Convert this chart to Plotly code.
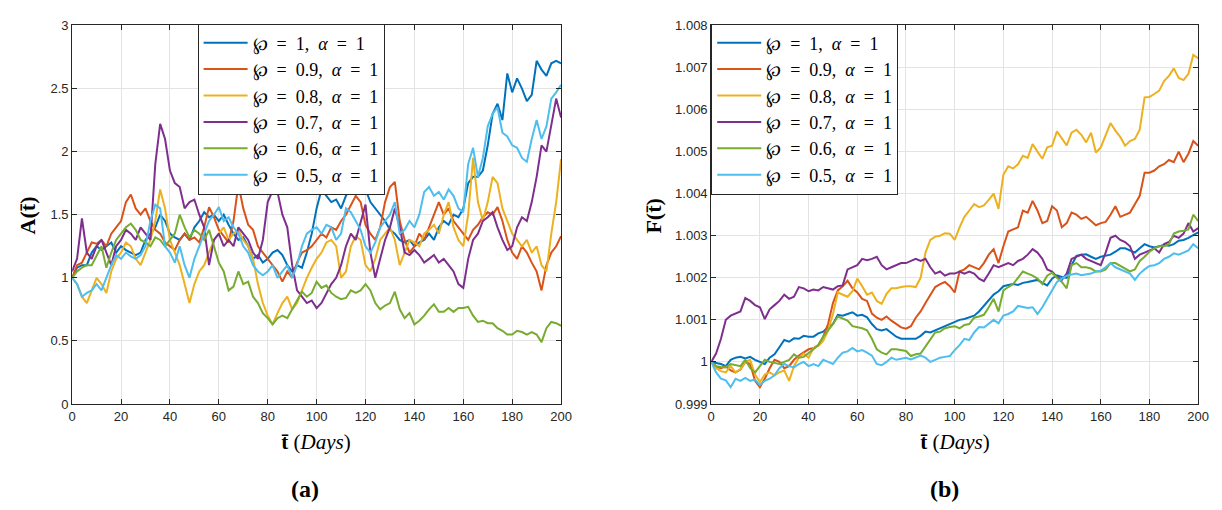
import plotly.graph_objects as go

# Simulation day grid (every second day)
days = list(range(0, 201, 2))

# A(t) for each fractional order
a_phi_10 = [1.0, 1.08, 1.1, 1.1, 1.2, 1.25, 1.22, 1.25, 1.28, 1.2,
            1.25, 1.22, 1.2, 1.18, 1.2, 1.3, 1.35, 1.4, 1.5, 1.45,
            1.35, 1.32, 1.3, 1.35, 1.3, 1.4, 1.45, 1.52, 1.48, 1.5,
            1.45, 1.5, 1.42, 1.35, 1.3, 1.32, 1.25, 1.15, 1.18, 1.12,
            1.15, 1.2, 1.22, 1.18, 1.1, 1.05, 1.1, 1.08, 1.2, 1.35,
            1.55, 1.7, 1.65, 1.6, 1.62, 1.55, 1.65, 1.72, 1.78, 1.72,
            1.7, 1.6, 1.55, 1.5, 1.45, 1.38, 1.35, 1.3, 1.28, 1.3,
            1.25, 1.28, 1.3, 1.35, 1.3, 1.4, 1.45, 1.42, 1.5, 1.48,
            1.55, 1.75, 1.8, 1.8, 1.85, 2.05, 2.3, 2.38, 2.25, 2.62,
            2.47, 2.58, 2.5, 2.4, 2.45, 2.72, 2.65, 2.6, 2.7, 2.72,
            2.7]
a_phi_09 = [1.0, 1.1, 1.12, 1.2, 1.28, 1.27, 1.3, 1.25, 1.35, 1.4,
            1.45, 1.6, 1.66, 1.55, 1.5, 1.55, 1.45, 1.38, 1.35, 1.28,
            1.25, 1.22, 1.3, 1.35, 1.3, 1.32, 1.28, 1.4, 1.56, 1.48,
            1.38, 1.33, 1.28, 1.45, 1.74, 1.55, 1.42, 1.38, 1.25, 1.2,
            1.15, 1.1, 1.05, 0.97, 1.05, 1.0, 1.12, 1.2, 1.22, 1.25,
            1.3, 1.35, 1.32, 1.4, 1.38, 1.45, 1.5, 1.58, 1.65, 1.6,
            1.42, 1.35, 1.3, 1.4, 1.6, 1.72, 1.76, 1.45, 1.3, 1.2,
            1.25, 1.35, 1.3, 1.4, 1.5, 1.6, 1.5, 1.55, 1.45, 1.4,
            1.35, 1.3, 1.38, 1.42, 1.48, 1.52, 1.5, 1.56, 1.45, 1.3,
            1.2, 1.15, 1.25, 1.2, 1.12, 1.05, 0.9, 1.1, 1.2, 1.25,
            1.33]
a_phi_08 = [1.0, 0.95, 0.85, 0.8, 0.9, 1.0, 0.95, 0.88, 1.05, 1.15,
            1.2, 1.28, 1.25, 1.15, 1.1, 1.2, 1.3, 1.45, 1.7, 1.55,
            1.3, 1.2, 1.1, 0.95, 0.8, 0.95, 1.05, 1.1, 1.2, 1.3,
            1.35, 1.4, 1.3, 1.35, 1.38, 1.3, 1.25, 1.15, 0.95, 0.8,
            0.7, 0.63, 0.72, 0.8, 0.85, 0.75, 0.8, 0.9, 1.0, 1.08,
            1.15, 1.2, 1.28, 1.3, 1.25, 1.0, 1.05, 1.25, 1.33, 1.3,
            1.1, 1.05, 1.15, 1.3, 1.35, 1.4, 1.3, 1.1, 1.2, 1.3,
            1.28, 1.25, 1.35, 1.38, 1.42, 1.35, 1.5, 1.6, 1.4, 1.3,
            1.25, 1.5, 1.95, 1.6, 1.45, 1.6, 1.8, 1.75, 1.55, 1.45,
            1.35, 1.3, 1.25, 1.3, 1.2, 1.25, 1.1, 1.05, 1.35, 1.6,
            1.94]
a_phi_07 = [1.05, 1.15, 1.47, 1.2, 1.15, 1.25, 1.3, 1.2, 1.1, 1.25,
            1.3, 1.38, 1.35, 1.3, 1.4, 1.35, 1.3, 1.9, 2.22, 2.1,
            1.85, 1.75, 1.72, 1.55, 1.6, 1.62, 1.5, 1.4, 1.1, 1.3,
            1.35, 1.25, 1.3, 1.25, 1.4, 1.35, 1.3, 1.2, 1.15, 1.3,
            1.6, 1.69, 1.68, 1.5, 1.4, 1.1, 0.9, 0.85, 0.8, 0.82,
            0.76, 0.8, 0.88, 0.95, 1.0, 1.1, 1.25, 1.35, 1.3, 1.45,
            1.58, 1.2, 1.0, 1.15, 1.3, 1.4, 1.55, 1.4, 1.2, 1.18,
            1.22, 1.18, 1.12, 1.15, 1.18, 1.12, 1.15, 1.1, 1.05, 0.95,
            0.92, 1.15, 1.3, 1.35, 1.45, 1.48, 1.52, 1.4, 1.3, 1.22,
            1.25, 1.4, 1.48, 1.45, 1.6, 1.8, 2.05, 2.0, 2.2, 2.42,
            2.27]
a_phi_06 = [1.0, 1.05, 1.08, 1.1, 1.1, 1.18, 1.25, 1.08, 1.2, 1.3,
            1.35, 1.4, 1.43, 1.38, 1.3, 1.28, 1.25, 1.32, 1.3, 1.25,
            1.3, 1.35, 1.5, 1.4, 1.32, 1.38, 1.35, 1.3, 1.38, 1.25,
            1.12, 1.05, 0.9, 0.93, 1.05, 0.95, 0.97, 0.85, 0.8, 0.72,
            0.68, 0.63, 0.68, 0.7, 0.68, 0.75, 0.82, 0.89, 0.85, 0.88,
            0.97, 0.92, 0.94, 0.88, 0.85, 0.83, 0.84, 0.9, 0.88, 0.9,
            0.95, 0.9, 0.8, 0.75, 0.78, 0.8, 0.89, 0.75, 0.68, 0.72,
            0.63, 0.66, 0.7, 0.75, 0.79, 0.73, 0.73, 0.76, 0.73, 0.76,
            0.76, 0.77, 0.7, 0.65, 0.66, 0.64, 0.64, 0.6, 0.58, 0.55,
            0.55, 0.58, 0.57, 0.55, 0.57, 0.55, 0.49, 0.6, 0.65, 0.64,
            0.62]
a_phi_05 = [1.0, 0.95, 0.85, 0.88, 0.9, 0.95, 0.9, 1.0, 1.1, 1.18,
            1.15, 1.2, 1.17, 1.15, 1.18, 1.25, 1.45, 1.58, 1.55, 1.25,
            1.2, 1.12, 1.25, 1.1, 1.0, 1.15, 1.25, 1.35, 1.45, 1.5,
            1.56, 1.45, 1.48, 1.4, 1.35, 1.25, 1.2, 1.1, 1.05, 1.02,
            1.05, 1.1, 1.0, 1.05, 1.1, 1.0, 1.1, 1.25, 1.35, 1.38,
            1.4, 1.35, 1.42, 1.4, 1.3, 1.35, 1.55, 1.52, 1.45, 1.38,
            1.25, 1.2, 1.28, 1.4, 1.45, 1.5, 1.6, 1.35, 1.38, 1.45,
            1.4, 1.5, 1.68, 1.72, 1.65, 1.68, 1.62, 1.7, 1.65, 1.55,
            1.52, 1.9, 2.03, 1.8, 1.95, 2.2, 2.3, 2.35, 2.15, 2.12,
            2.05, 2.03, 1.95, 1.92, 2.1, 2.25, 2.1, 2.2, 2.42, 2.47,
            2.53]

# F(t) - 1 for each fractional order, in units of 1e-3
f_phi_10 = [0, -0.02, -0.05, -0.1, 0.05, 0.1, 0.12, 0.08, 0.12, 0.05,
            0.0, -0.05, 0.1, 0.18, 0.35, 0.52, 0.48, 0.56, 0.55, 0.62,
            0.6, 0.6, 0.68, 0.72, 0.83, 0.9, 1.12, 1.1, 1.14, 1.18,
            1.1, 1.12, 1.06, 0.9, 0.78, 0.75, 0.78, 0.68, 0.6, 0.55,
            0.55, 0.54, 0.55, 0.62, 0.72, 0.7, 0.75, 0.8, 0.85, 0.9,
            0.95, 1.0, 1.02, 1.06, 1.1, 1.2, 1.33, 1.45, 1.6, 1.68,
            1.8, 1.83, 1.85, 1.83, 1.88, 1.9, 1.92, 1.95, 1.88, 1.82,
            1.98, 2.06, 2.02, 2.0, 2.3, 2.52, 2.55, 2.56, 2.5, 2.45,
            2.5, 2.52, 2.55, 2.62, 2.7, 2.7, 2.65, 2.6, 2.7, 2.8,
            2.75, 2.72, 2.75, 2.78, 2.76, 2.8, 2.88, 2.9, 2.95, 3.02,
            3.08]
f_phi_09 = [0, -0.12, -0.15, -0.1, -0.2, -0.25, -0.18, 0.0, -0.05, -0.45,
            -0.6, -0.4, -0.15, 0.05, 0.0, -0.15, -0.1, 0.05, 0.15, 0.22,
            0.3, 0.33, 0.4, 0.6, 0.9, 1.4, 1.7, 1.8, 1.93, 1.75,
            1.65, 1.5, 1.45, 1.15, 1.05, 1.0, 1.08, 0.98, 0.9, 0.82,
            0.79, 0.85, 1.05, 1.2, 1.4, 1.6, 1.78, 1.85, 1.9, 1.8,
            1.65, 2.15, 2.2, 2.3, 2.25, 2.2, 2.35, 2.55, 2.68, 2.35,
            2.75, 3.1, 3.15, 3.2, 3.6, 3.55, 3.83, 3.6, 3.3, 3.35,
            3.7, 3.6, 3.2, 3.3, 3.55, 3.5, 3.4, 3.45, 3.35, 3.25,
            3.3, 3.33, 3.5, 3.7, 3.45, 3.5, 3.55, 3.75, 3.95, 4.5,
            4.5, 4.55, 4.65, 4.7, 4.8, 4.75, 5.0, 4.75, 4.95, 5.25,
            5.14]
f_phi_08 = [0, -0.15, -0.22, -0.25, -0.1, -0.25, -0.17, 0.0, 0.05, -0.3,
            -0.48, -0.3, -0.25, -0.32, -0.25, -0.2, -0.45, -0.1, 0.1, 0.2,
            0.1, 0.33, 0.38, 0.5, 0.75, 1.14, 1.65, 1.6, 1.55, 1.68,
            1.98, 1.8, 1.6, 1.65, 1.45, 1.38, 1.62, 1.75, 1.75, 1.78,
            1.8, 1.8, 1.78, 2.0, 2.6, 2.9, 2.98, 3.0, 3.06, 3.05,
            2.9, 3.2, 3.45, 3.6, 3.75, 3.68, 3.72, 3.85, 4.0, 3.64,
            4.45, 4.65, 4.6, 4.7, 4.9, 4.85, 5.18, 5.0, 4.83, 5.1,
            5.14, 5.48, 5.3, 5.15, 5.45, 5.52, 5.4, 5.22, 5.45, 4.98,
            5.1, 5.4, 5.68, 5.5, 5.35, 5.14, 5.25, 5.3, 5.52, 6.29,
            6.3, 6.37, 6.45, 6.68, 6.8, 6.98, 6.75, 6.7, 6.85, 7.3,
            7.22]
f_phi_07 = [0.0, 0.2, 0.55, 1.0, 1.1, 1.15, 1.2, 1.52, 1.45, 1.35,
            1.3, 1.02, 1.25, 1.35, 1.45, 1.6, 1.5, 1.55, 1.78, 1.75,
            1.68, 1.72, 1.7, 1.78, 1.75, 1.72, 1.8, 1.82, 2.2, 2.25,
            2.3, 2.45, 2.42, 2.45, 2.5, 2.3, 2.2, 2.25, 2.3, 2.35,
            2.35, 2.4, 2.45, 2.4, 2.45, 2.25, 2.1, 2.15, 2.05, 2.1,
            2.1, 2.15, 2.1, 2.15, 2.1, 1.98, 1.92, 2.1, 2.3, 2.25,
            2.3, 2.35, 2.3, 2.4, 2.45, 2.55, 2.68, 2.6, 2.45, 2.2,
            2.15, 2.02, 1.95, 2.1, 2.45, 2.5, 2.55, 2.45, 2.4, 2.35,
            2.3, 2.6, 2.95, 3.0, 2.9, 2.85, 2.75, 2.45, 2.55, 2.6,
            2.65, 2.7, 2.6, 2.8, 2.85, 3.0, 2.95, 3.05, 3.3, 3.1,
            3.18]
f_phi_06 = [0, -0.1, -0.12, -0.13, -0.05, -0.08, -0.1, 0.05, -0.15, -0.25,
            -0.1, 0.05, 0.0, -0.02, -0.05, 0.0, 0.05, 0.18, 0.1, 0.12,
            0.2, 0.3, 0.4, 0.6, 0.75, 0.9, 1.08, 1.02, 0.98, 0.85,
            0.82, 0.8, 0.75, 0.55, 0.3, 0.22, 0.18, 0.3, 0.3, 0.28,
            0.26, 0.14, 0.18, 0.2, 0.37, 0.52, 0.7, 0.72, 0.8, 0.83,
            0.85, 0.8, 0.88, 0.9, 1.05, 1.08, 1.12, 1.3, 1.5, 1.2,
            1.7, 1.78, 1.85, 2.0, 2.15, 2.1, 2.05, 1.98, 1.85, 2.05,
            2.12, 2.0, 1.9, 1.75, 2.3, 2.35, 2.25, 2.25, 2.22, 2.15,
            2.15, 2.2, 2.35, 2.35, 2.28, 2.2, 2.15, 2.2, 2.4, 2.5,
            2.62, 2.7, 2.75, 2.75, 2.8, 3.05, 3.1, 3.12, 3.15, 3.5,
            3.35]
f_phi_05 = [0, -0.25, -0.4, -0.44, -0.6, -0.4, -0.45, -0.38, -0.45, -0.42,
            -0.55, -0.45, -0.4, -0.32, -0.15, -0.05, -0.1, -0.13, -0.05, 0.0,
            -0.1, -0.05, -0.1, 0.05, 0.0, -0.05, 0.1, 0.22, 0.25, 0.33,
            0.25, 0.28, 0.22, 0.15, -0.05, -0.08, 0.0, 0.1, 0.05, 0.08,
            0.1, 0.06, 0.1, 0.15, 0.1, 0.0, 0.05, 0.1, 0.12, 0.14,
            0.28, 0.4, 0.55, 0.52, 0.7, 0.83, 0.82, 0.9, 1.0, 0.92,
            1.1, 1.14, 1.2, 1.33, 1.3, 1.28, 1.3, 1.14, 1.3, 1.5,
            1.72, 1.9, 1.98, 2.05, 2.08, 2.1, 2.06, 2.08, 2.1, 2.15,
            2.17, 2.25, 2.35, 2.25, 2.2, 2.15, 2.1, 1.95, 2.1, 2.2,
            2.28, 2.3, 2.35, 2.45, 2.5, 2.58, 2.55, 2.6, 2.65, 2.8,
            2.7]

# Legend entries (en spaces mimic the wider math spacing)
SP = "\u2002"
phi_values = ["1", "0.9", "0.8", "0.7", "0.6", "0.5"]
series_labels = [f"℘{SP}={SP}{p},{SP}<i>α</i>{SP}={SP}1" for p in phi_values]
series_colors = ["#0072BD", "#D95319", "#EDB120", "#7E2F8E", "#77AC30", "#4DBEEE"]

x_ticks = [0, 20, 40, 60, 80, 100, 120, 140, 160, 180, 200]
a_ticks = [0, 0.5, 1, 1.5, 2, 2.5, 3]
a_tick_text = ["0", "0.5", "1", "1.5", "2", "2.5", "3"]
f_ticks = [0.999, 1.0, 1.001, 1.002, 1.003, 1.004, 1.005, 1.006, 1.007, 1.008]
f_tick_text = ["0.999", "1", "1.001", "1.002", "1.003", "1.004", "1.005", "1.006", "1.007", "1.008"]

a_series = [a_phi_10, a_phi_09, a_phi_08, a_phi_07, a_phi_06, a_phi_05]
f_series = [f_phi_10, f_phi_09, f_phi_08, f_phi_07, f_phi_06, f_phi_05]

W, H = 1222, 510


def fx(px):
    return px / W


def fy(px):
    return 1 - px / H


fig = go.Figure()

for vals, col, lab in zip(a_series, series_colors, series_labels):
    fig.add_trace(go.Scatter(
        x=days, y=vals, mode="lines", name=lab,
        line=dict(color=col, width=2),
        xaxis="x", yaxis="y", legend="legend",
    ))

for vals, col, lab in zip(f_series, series_colors, series_labels):
    fig.add_trace(go.Scatter(
        x=days, y=[1 + v * 1e-3 for v in vals], mode="lines", name=lab,
        line=dict(color=col, width=2),
        xaxis="x2", yaxis="y2", legend="legend2",
    ))

axis_style = dict(
    showline=True, linecolor="#262626", linewidth=1, mirror="ticks",
    ticks="inside", ticklen=5, tickwidth=1, tickcolor="#262626",
    showgrid=True, gridcolor="#e3e3e3", gridwidth=1, zeroline=False,
    tickfont=dict(family="Liberation Sans, Arial, sans-serif", size=13, color="#262626"),
)

y_dom = [fy(409), fy(19)]

legend_style = dict(
    xanchor="left", yanchor="top",
    bgcolor="white", bordercolor="#262626", borderwidth=1,
    font=dict(family="Liberation Serif, DejaVu Serif, serif", size=18, color="black"),
    itemwidth=44, tracegroupgap=0,
)

serif = "Liberation Serif, DejaVu Serif, serif"

fig.update_layout(
    width=W, height=H, autosize=False,
    margin=dict(l=0, r=0, t=0, b=0),
    paper_bgcolor="white", plot_bgcolor="white",
    xaxis=dict(domain=[fx(69), fx(564)], range=[0, 200], tickvals=x_ticks,
               anchor="y", **axis_style),
    yaxis=dict(domain=y_dom, range=[0, 3], tickvals=a_ticks, ticktext=a_tick_text,
               anchor="x", **axis_style),
    xaxis2=dict(domain=[fx(716), fx(1209)], range=[0, 200], tickvals=x_ticks,
                anchor="y2", **axis_style),
    yaxis2=dict(domain=y_dom, range=[0.999, 1.008], tickvals=f_ticks, ticktext=f_tick_text,
                anchor="x2", **axis_style),
    legend=dict(x=fx(196), y=fy(17), **legend_style),
    legend2=dict(x=fx(716), y=fy(17), **legend_style),
    showlegend=True,
)

annotations = [
    dict(text="<b>A(t̄)</b>", x=fx(24), y=fy(215), textangle=-90,
         font=dict(family=serif, size=22, color="black")),
    dict(text="<b>F(t̄)</b>", x=fx(658), y=fy(215), textangle=-90,
         font=dict(family=serif, size=22, color="black")),
    dict(text="<b>t̄</b> (<i>Days</i>)", x=fx(316), y=fy(448),
         font=dict(family=serif, size=21, color="black")),
    dict(text="<b>t̄</b> (<i>Days</i>)", x=fx(963), y=fy(448),
         font=dict(family=serif, size=21, color="black")),
    dict(text="<b>(a)</b>", x=fx(305), y=fy(497),
         font=dict(family=serif, size=24, color="black")),
    dict(text="<b>(b)</b>", x=fx(952), y=fy(497),
         font=dict(family=serif, size=24, color="black")),
]
for a in annotations:
    a.update(xref="paper", yref="paper", showarrow=False, xanchor="center", yanchor="middle")
fig.update_layout(annotations=annotations)

fig.write_html("out.html")
